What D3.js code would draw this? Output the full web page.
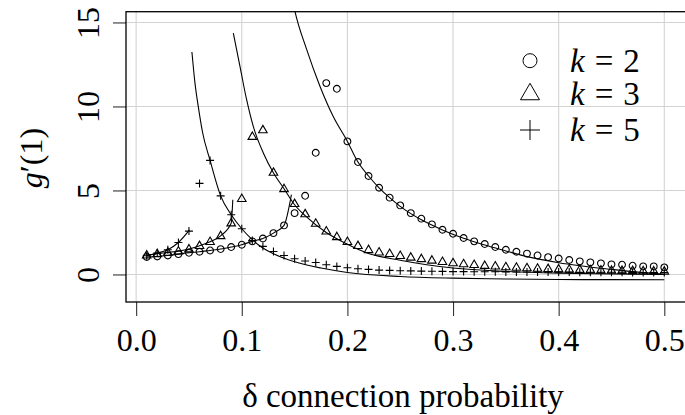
<!DOCTYPE html>
<html>
<head>
<meta charset="utf-8">
<script src="https://cdn.jsdelivr.net/npm/d3@7"></script>
<style>
  body { margin: 0; background: #fff; }
</style>
</head>
<body>
<svg id="Vis" width="685" height="415"></svg>
<script>
// connection probability (x) and simulated g'(1) for each k
var delta = [0.01,0.02,0.03,0.04,0.05,0.06,0.07,0.08,0.09,0.10,
             0.11,0.12,0.13,0.14,0.15,0.16,0.17,0.18,0.19,0.20,
             0.21,0.22,0.23,0.24,0.25,0.26,0.27,0.28,0.29,0.30,
             0.31,0.32,0.33,0.34,0.35,0.36,0.37,0.38,0.39,0.40,
             0.41,0.42,0.43,0.44,0.45,0.46,0.47,0.48,0.49,0.50];

var gK2 = [1.04,1.07,1.13,1.21,1.29,1.35,1.43,1.51,1.63,1.77,
           1.97,2.14,2.46,2.92,3.65,4.68,7.24,11.39,11.05,7.92,
           6.69,5.86,5.16,4.57,4.11,3.65,3.32,2.98,2.66,2.42,
           2.17,1.97,1.81,1.63,1.47,1.35,1.24,1.13,1.03,0.95,
           0.86,0.78,0.72,0.66,0.60,0.58,0.52,0.48,0.48,0.42];

var gK3 = [1.15,1.23,1.31,1.39,1.51,1.71,1.95,2.30,3.06,4.51,
           8.21,8.60,6.07,5.10,4.21,3.60,3.04,2.58,2.24,1.95,
           1.71,1.47,1.33,1.24,1.12,1.02,0.93,0.84,0.76,0.69,
           0.63,0.58,0.53,0.49,0.45,0.42,0.39,0.36,0.34,0.32,
           0.30,0.28,0.27,0.25,0.24,0.23,0.22,0.21,0.20,0.19];

var gK5 = [1.11,1.27,1.47,1.90,2.58,5.42,6.79,4.68,3.55,2.72,
           2.02,1.67,1.37,1.13,0.93,0.80,0.71,0.58,0.48,0.40,
           0.34,0.30,0.26,0.24,0.22,0.21,0.20,0.19,0.18,0.17,
           0.17,0.16,0.16,0.16,0.15,0.15,0.15,0.14,0.14,0.14,
           0.14,0.13,0.13,0.13,0.13,0.13,0.12,0.12,0.12,0.12];

// theory curves, two branches each (below / above the blow-up)
var curveK2Low  = [[0.01,1.04],[0.02,1.07],[0.03,1.13],[0.04,1.21],[0.05,1.29],[0.06,1.35],[0.07,1.43],
                   [0.08,1.51],[0.09,1.63],[0.10,1.77],[0.11,1.97],[0.12,2.14],[0.13,2.46],[0.14,2.92],[0.147,4.75]];
var curveK2High = [[0.1445,17.5],[0.1504,15.65],[0.1615,13.38],[0.1741,11.19],[0.1866,9.40],[0.20,7.92],
                   [0.21,6.69],[0.22,5.86],[0.23,5.16],[0.24,4.57],[0.25,4.05],[0.27,3.25],[0.29,2.65],
                   [0.31,2.15],[0.33,1.75],[0.35,1.40],[0.37,1.06],[0.40,0.70],[0.45,0.30],[0.50,0.0]];
var curveK3Low  = [[0.01,1.15],[0.02,1.23],[0.03,1.31],[0.04,1.39],[0.05,1.51],[0.06,1.71],[0.07,1.95],
                   [0.08,2.30],[0.09,3.06],[0.0915,4.45]];
var curveK3High = [[0.092,14.37],[0.0983,12.38],[0.1046,10.40],[0.1109,8.81],[0.1204,7.23],[0.1298,6.07],
                   [0.14,5.10],[0.15,4.15],[0.16,3.50],[0.18,2.50],[0.20,1.80],[0.22,1.25],[0.25,0.85],
                   [0.275,0.58],[0.30,0.38],[0.35,0.18],[0.40,0.08],[0.45,0.03],[0.50,0.0]];
var curveK5Low  = [[0.01,1.11],[0.02,1.27],[0.03,1.47],[0.04,1.90],[0.0505,2.65]];
var curveK5High = [[0.0528,13.24],[0.0557,11.39],[0.0588,10.0],[0.063,8.42],[0.07,6.79],[0.08,4.68],
                   [0.09,3.55],[0.10,2.72],[0.11,2.07],[0.12,1.57],[0.13,1.23],[0.15,0.75],[0.175,0.38],
                   [0.20,0.12],[0.25,-0.12],[0.30,-0.22],[0.35,-0.27],[0.40,-0.30],[0.45,-0.31],[0.50,-0.32]];

var xTicks = [0, 0.1, 0.2, 0.3, 0.4, 0.5];
var yTicks = [0, 5, 10, 15];
var legendKeys = ["2", "3", "5"];

var svg = d3.select("#Vis");
var box = {left: 126, top: 11.7, right: 686, bottom: 302};

var x = d3.scaleLinear().domain([-0.0096, 0.5196]).range([box.left, 685]);
var y = d3.scaleLinear().domain([-1.64, 15.64]).range([box.bottom, box.top]);

function serifText(sel, size){
  return sel.style("font-family", "Liberation Serif").style("font-size", size + "px");
}

svg.append("clipPath").attr("id", "plotClip")
   .append("rect")
   .attr("x", box.left).attr("y", box.top)
   .attr("width", box.right - box.left).attr("height", box.bottom - box.top);

// grid
var grid = svg.append("g").attr("stroke", "#d3d3d3").attr("stroke-width", 1.1);
grid.selectAll(".vg").data(xTicks).enter().append("line")
    .attr("x1", function(d){ return x(d); }).attr("x2", function(d){ return x(d); })
    .attr("y1", box.top).attr("y2", box.bottom);
grid.selectAll(".hg").data(yTicks).enter().append("line")
    .attr("y1", function(d){ return y(d); }).attr("y2", function(d){ return y(d); })
    .attr("x1", box.left).attr("x2", box.right);

// axes
var xAxis = svg.append("g")
   .attr("transform", "translate(0," + box.bottom + ")")
   .call(d3.axisBottom(x).tickValues(xTicks).tickSize(14).tickFormat(d3.format(".1f")));
xAxis.select(".domain").remove();
serifText(xAxis.selectAll("text"), 32)
     .attr("y", 0).attr("dy", 0)
     .attr("transform", "translate(0,49)");

var yAxis = svg.append("g")
   .attr("transform", "translate(" + box.left + ",0)")
   .call(d3.axisLeft(y).tickValues(yTicks).tickSize(13).tickFormat(d3.format("d")));
yAxis.select(".domain").remove();
serifText(yAxis.selectAll(".tick text"), 32)
     .attr("x", 0).attr("dy", 0)
     .attr("transform", "translate(-27,0) rotate(-90)")
     .attr("text-anchor", "middle");
svg.selectAll(".tick line").attr("stroke", "#333").attr("stroke-width", 1.1);

// plot box
svg.append("rect")
   .attr("x", box.left).attr("y", box.top)
   .attr("width", box.right - box.left).attr("height", box.bottom - box.top)
   .attr("fill", "none").attr("stroke", "#000").attr("stroke-width", 1.3);

// theory lines
var line = d3.line()
   .x(function(d){ return x(d[0]); })
   .y(function(d){ return y(d[1]); })
   .curve(d3.curveMonotoneX);

var curves = [curveK2Low, curveK2High, curveK3Low, curveK3High, curveK5Low, curveK5High];
svg.append("g").attr("clip-path", "url(#plotClip)")
   .selectAll("path").data(curves).enter().append("path")
   .attr("d", line)
   .attr("fill", "none").attr("stroke", "#000").attr("stroke-width", 1.1);

// point markers
function markerPath(kind, s){
  if(kind == "circle")
  {
    return "M" + (-s) + ",0A" + s + "," + s + " 0 1,0 " + s + ",0A" + s + "," + s + " 0 1,0 " + (-s) + ",0Z";
  }
  else if(kind == "triangle")
  {
    var h = s * 1.732;
    return "M0," + (-h * 0.62) + "L" + s + "," + (h * 0.38) + "L" + (-s) + "," + (h * 0.38) + "Z";
  }
  return "M" + (-s) + ",0H" + s + "M0," + (-s) + "V" + s;
}

var series = [
  {kind: "circle",   size: 3.4, vals: gK2},
  {kind: "triangle", size: 4.3, vals: gK3},
  {kind: "plus",     size: 4.0, vals: gK5}
];

series.forEach(function(s){
  svg.append("g").attr("clip-path", "url(#plotClip)")
     .selectAll("path").data(s.vals).enter().append("path")
     .attr("transform", function(d,i){ return "translate(" + x(delta[i]) + "," + y(d) + ")"; })
     .attr("d", markerPath(s.kind, s.size))
     .attr("fill", "none").attr("stroke", "#000").attr("stroke-width", 1.1);
});

// legend
var legendKinds = [{kind: "circle", size: 7}, {kind: "triangle", size: 9.5}, {kind: "plus", size: 10}];
var legY = [60.7, 93.5, 130];
var leg = svg.append("g");
legendKeys.forEach(function(k, i){
  leg.append("path")
     .attr("transform", "translate(530," + legY[i] + ")")
     .attr("d", markerPath(legendKinds[i].kind, legendKinds[i].size))
     .attr("fill", "none").attr("stroke", "#000").attr("stroke-width", 1);
  var t = serifText(leg.append("text"), 33).attr("x", 570).attr("y", legY[i] + 11);
  t.append("tspan").style("font-style", "italic").text("k");
  t.append("tspan").attr("dx", 10).text("=");
  t.append("tspan").attr("dx", 10).text(k);
});

// axis titles
serifText(svg.append("text"), 33)
   .attr("x", 403).attr("y", 407)
   .attr("text-anchor", "middle")
   .text("\u03b4 connection probability");

var yt = serifText(svg.append("text"), 32)
   .attr("transform", "translate(42,158) rotate(-90)")
   .attr("text-anchor", "middle");
yt.append("tspan").style("font-style", "italic").text("g");
yt.append("tspan").text("\u2032(1)");
</script>
</body>
</html>
